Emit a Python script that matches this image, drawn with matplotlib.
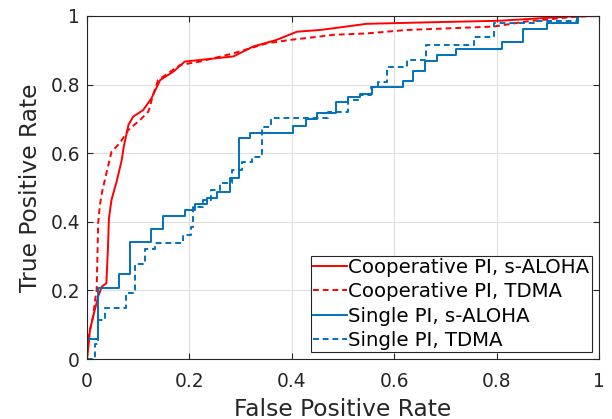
import numpy as np
import matplotlib
matplotlib.use("Agg")
import matplotlib.pyplot as plt

plt.rcParams['font.family'] = ['DejaVu Sans']

# Cooperative PI, s-ALOHA
coop_aloha_x = [0, 0.003, 0.006, 0.012, 0.022, 0.029, 0.038, 0.041, 0.043, 0.048, 0.058, 0.068,
                0.072, 0.081, 0.090, 0.110, 0.126, 0.143, 0.169, 0.191, 0.286, 0.325, 0.370,
                0.410, 0.455, 0.481, 0.546, 0.657, 0.807, 0.937, 1.0]
coop_aloha_y = [0, 0.036, 0.085, 0.123, 0.182, 0.211, 0.221, 0.32, 0.41, 0.464, 0.517, 0.58,
                0.619, 0.682, 0.706, 0.726, 0.76, 0.813, 0.838, 0.867, 0.882, 0.911, 0.93,
                0.954, 0.959, 0.964, 0.977, 0.981, 0.986, 0.998, 1.0]

# Cooperative PI, TDMA
coop_tdma_x = [0, 0.003, 0.012, 0.016, 0.019, 0.022, 0.025, 0.029, 0.038, 0.048, 0.064, 0.081,
               0.104, 0.120, 0.130, 0.139, 0.182, 0.221, 0.286, 0.351, 0.396, 0.455, 0.481,
               0.546, 0.624, 0.794, 0.859, 0.956, 1.0]
coop_tdma_y = [0, 0.065, 0.123, 0.172, 0.201, 0.396, 0.444, 0.483, 0.541, 0.604, 0.629, 0.668,
               0.697, 0.721, 0.774, 0.813, 0.857, 0.867, 0.891, 0.92, 0.93, 0.94, 0.945,
               0.949, 0.959, 0.969, 0.984, 0.998, 1.0]

# Single PI, s-ALOHA (step curve)
single_aloha_x = [0, 0, 0.022, 0.062, 0.085, 0.126, 0.149, 0.191, 0.211, 0.234, 0.253, 0.279,
                  0.297, 0.318, 0.403, 0.428, 0.449, 0.487, 0.510, 0.533, 0.556, 0.617, 0.637,
                  0.660, 0.683, 0.720, 0.810, 0.852, 0.898, 0.959, 1.0]
single_aloha_y = [0, 0.058, 0.207, 0.248, 0.341, 0.379, 0.417, 0.434, 0.452, 0.469, 0.488, 0.527,
                  0.644, 0.66, 0.679, 0.70, 0.717, 0.748, 0.765, 0.773, 0.794, 0.811, 0.840,
                  0.870, 0.887, 0.904, 0.924, 0.963, 0.98, 1.0, 1.0]

# Single PI, TDMA (step curve)
single_tdma_x = [0, 0.016, 0.022, 0.035, 0.076, 0.094, 0.113, 0.133, 0.187, 0.204, 0.208, 0.227,
                 0.243, 0.260, 0.283, 0.302, 0.322, 0.341, 0.359, 0.471, 0.510, 0.533, 0.554,
                 0.568, 0.585, 0.624, 0.662, 0.755, 0.794, 0.878, 0.956, 1.0]
single_tdma_y = [0, 0.044, 0.114, 0.149, 0.192, 0.277, 0.32, 0.338, 0.361, 0.386, 0.444, 0.464,
                 0.493, 0.512, 0.551, 0.575, 0.59, 0.677, 0.702, 0.721, 0.755, 0.77, 0.794,
                 0.808, 0.852, 0.872, 0.915, 0.94, 0.978, 0.985, 1.0, 1.0]

red = '#FF0000'
blue = '#0072BD'

fig = plt.figure(figsize=(6.12, 4.19), dpi=100)
ax = fig.add_axes([0.142, 0.143, 0.837, 0.819])

ax.plot(coop_aloha_x, coop_aloha_y, color=red, lw=1.4, label='Cooperative PI, s-ALOHA')
ax.plot(coop_tdma_x, coop_tdma_y, color=red, lw=1.4, ls=(0, (3, 2)), label='Cooperative PI, TDMA')
ax.step(single_aloha_x, single_aloha_y, where='post', color=blue, lw=1.4, label='Single PI, s-ALOHA')
ax.step(single_tdma_x, single_tdma_y, where='post', color=blue, lw=1.4, ls=(0, (3, 2)),
        label='Single PI, TDMA')

ax.set_xlim(0, 1)
ax.set_ylim(0, 1)
ticks = [0, 0.2, 0.4, 0.6, 0.8, 1]
ticklabels = ['0', '0.2', '0.4', '0.6', '0.8', '1']
ax.set_xticks(ticks)
ax.set_xticklabels(ticklabels)
ax.set_yticks(ticks)
ax.set_yticklabels(ticklabels)
ax.tick_params(direction='in', top=True, right=True, labelsize=13.4, colors='#262626', length=4)
ax.tick_params(axis='x', pad=9)
ax.tick_params(axis='y', pad=5)
ax.grid(True, color='#DFDFDF', lw=0.8)
for s in ax.spines.values():
    s.set_color('#262626')
    s.set_linewidth(0.8)

ax.set_xlabel('False Positive Rate', fontsize=16.8, color='#262626', labelpad=5)
ax.set_ylabel('True Positive Rate', fontsize=16.8, color='#262626', labelpad=6)

leg = ax.legend(loc='lower right', bbox_to_anchor=(0.986, 0.02), borderaxespad=0,
                fontsize=14.2, fancybox=False, edgecolor='#262626', framealpha=1,
                handlelength=1.7, handletextpad=0.1, labelspacing=0.27, borderpad=0.12)
leg.get_frame().set_linewidth(0.8)

fig.savefig('out.png', dpi=100)
